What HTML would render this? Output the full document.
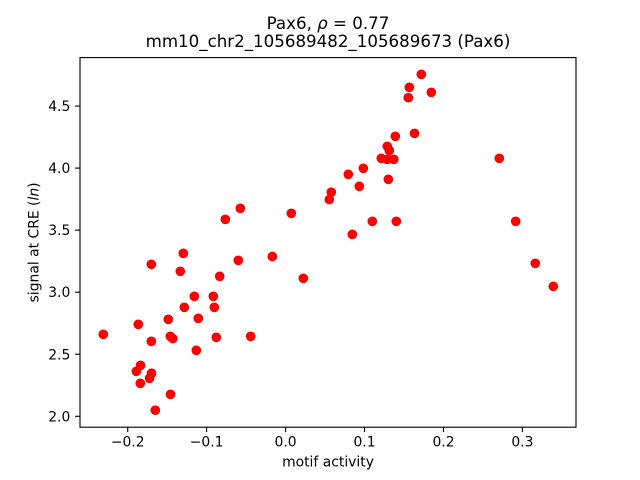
<!DOCTYPE html>
<html>
<head>
<meta charset="utf-8">
<style>
  html, body { margin: 0; padding: 0; background: #ffffff; }
  svg { display: block; }
  text { font-family: "DejaVu Sans", "Liberation Sans", sans-serif; fill: #000; }
</style>
</head>
<body>
<svg width="640" height="480" viewBox="0 0 640 480" xmlns="http://www.w3.org/2000/svg">
  <rect x="0" y="0" width="640" height="480" fill="#ffffff"/>
  <g fill="#ff0000">
    <circle cx="240.3" cy="208.3" r="4.85"/>
    <circle cx="225.3" cy="219.3" r="4.85"/>
    <circle cx="291.3" cy="213.3" r="4.85"/>
    <circle cx="183.3" cy="253.3" r="4.85"/>
    <circle cx="238.3" cy="260.3" r="4.85"/>
    <circle cx="272.3" cy="256.5" r="4.85"/>
    <circle cx="151.3" cy="264.3" r="4.85"/>
    <circle cx="180.3" cy="271.3" r="4.85"/>
    <circle cx="219.7" cy="276.3" r="4.85"/>
    <circle cx="303.3" cy="278.3" r="4.85"/>
    <circle cx="194.3" cy="296.3" r="4.85"/>
    <circle cx="213.3" cy="296.3" r="4.85"/>
    <circle cx="184.3" cy="307.3" r="4.85"/>
    <circle cx="214.3" cy="307.3" r="4.85"/>
    <circle cx="198.3" cy="318.3" r="4.85"/>
    <circle cx="168.3" cy="319.3" r="4.85"/>
    <circle cx="138.3" cy="324.3" r="4.85"/>
    <circle cx="103.3" cy="334.3" r="4.85"/>
    <circle cx="170.3" cy="336.3" r="4.85"/>
    <circle cx="172.8" cy="338.5" r="4.85"/>
    <circle cx="216.3" cy="337.3" r="4.85"/>
    <circle cx="250.7" cy="336.3" r="4.85"/>
    <circle cx="151.3" cy="341.3" r="4.85"/>
    <circle cx="196.3" cy="350.3" r="4.85"/>
    <circle cx="140.5" cy="365.3" r="4.85"/>
    <circle cx="136.3" cy="371.3" r="4.85"/>
    <circle cx="151.5" cy="373.2" r="4.85"/>
    <circle cx="149.5" cy="378.3" r="4.85"/>
    <circle cx="140.3" cy="383.3" r="4.85"/>
    <circle cx="170.5" cy="394.3" r="4.85"/>
    <circle cx="155.3" cy="410.2" r="4.85"/>
    <circle cx="421.3" cy="74.3" r="4.85"/>
    <circle cx="409.3" cy="87.3" r="4.85"/>
    <circle cx="431.3" cy="92.3" r="4.85"/>
    <circle cx="408.3" cy="97.7" r="4.85"/>
    <circle cx="414.5" cy="133.3" r="4.85"/>
    <circle cx="395.3" cy="136.3" r="4.85"/>
    <circle cx="387.3" cy="146.3" r="4.85"/>
    <circle cx="389.3" cy="150.5" r="4.85"/>
    <circle cx="381.3" cy="158.3" r="4.85"/>
    <circle cx="387.3" cy="159.3" r="4.85"/>
    <circle cx="393.8" cy="159.3" r="4.85"/>
    <circle cx="499.3" cy="158.3" r="4.85"/>
    <circle cx="363.3" cy="168.3" r="4.85"/>
    <circle cx="348.3" cy="174.3" r="4.85"/>
    <circle cx="388.3" cy="179.3" r="4.85"/>
    <circle cx="359.3" cy="186.3" r="4.85"/>
    <circle cx="331.3" cy="192.2" r="4.85"/>
    <circle cx="329.3" cy="199.5" r="4.85"/>
    <circle cx="372.3" cy="221.3" r="4.85"/>
    <circle cx="396.3" cy="221.3" r="4.85"/>
    <circle cx="515.7" cy="221.3" r="4.85"/>
    <circle cx="352.3" cy="234.3" r="4.85"/>
    <circle cx="535.3" cy="263.3" r="4.85"/>
    <circle cx="553.3" cy="286.3" r="4.85"/>
  </g>
  <rect x="80" y="57.6" width="496" height="369.6" fill="none" stroke="#000" stroke-width="1.11"/>
  <g stroke="#000" stroke-width="1.11">
    <line x1="127.7" y1="427.2" x2="127.7" y2="432.1"/>
    <line x1="206.6" y1="427.2" x2="206.6" y2="432.1"/>
    <line x1="285.6" y1="427.2" x2="285.6" y2="432.1"/>
    <line x1="364.5" y1="427.2" x2="364.5" y2="432.1"/>
    <line x1="443.5" y1="427.2" x2="443.5" y2="432.1"/>
    <line x1="522.4" y1="427.2" x2="522.4" y2="432.1"/>
  </g>
  <g font-size="13.9" text-anchor="middle">
    <text x="127.7" y="446.7">−0.2</text>
    <text x="206.6" y="446.7">−0.1</text>
    <text x="285.6" y="446.7">0.0</text>
    <text x="364.5" y="446.7">0.1</text>
    <text x="443.5" y="446.7">0.2</text>
    <text x="522.4" y="446.7">0.3</text>
  </g>
  <g stroke="#000" stroke-width="1.11">
    <line x1="75.1" y1="416.3" x2="80" y2="416.3"/>
    <line x1="75.1" y1="354.25" x2="80" y2="354.25"/>
    <line x1="75.1" y1="292.2" x2="80" y2="292.2"/>
    <line x1="75.1" y1="230.15" x2="80" y2="230.15"/>
    <line x1="75.1" y1="168.1" x2="80" y2="168.1"/>
    <line x1="75.1" y1="106.05" x2="80" y2="106.05"/>
  </g>
  <g font-size="13.9" text-anchor="end">
    <text x="70.3" y="421.3">2.0</text>
    <text x="70.3" y="359.3">2.5</text>
    <text x="70.3" y="297.2">3.0</text>
    <text x="70.3" y="235.2">3.5</text>
    <text x="70.3" y="173.1">4.0</text>
    <text x="70.3" y="111.1">4.5</text>
  </g>
  <text x="328" y="466.5" font-size="13.9" text-anchor="middle">motif activity</text>
  <text transform="translate(38.7,242.4) rotate(-90)" font-size="13.9" text-anchor="middle">signal at CRE (<tspan font-style="italic">ln</tspan>)</text>
  <text x="328" y="29" font-size="16.67" text-anchor="middle">Pax6, <tspan font-style="italic">ρ</tspan> = 0.77</text>
  <text x="328" y="47" font-size="16.67" text-anchor="middle">mm10_chr2_105689482_105689673 (Pax6)</text>
</svg>
</body>
</html>
